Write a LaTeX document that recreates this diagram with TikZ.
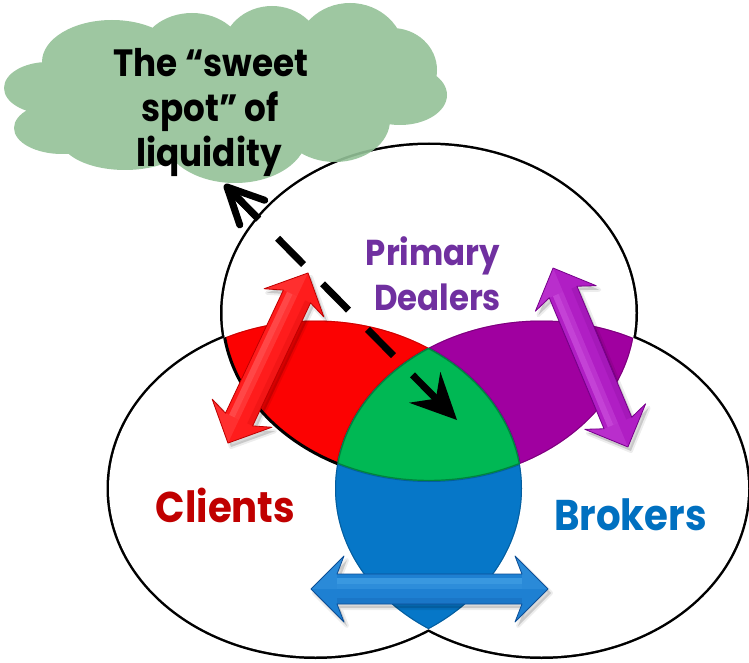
\documentclass[tikz,border=0pt]{standalone}
\usepackage{fontspec}
\usepackage{graphicx}
\setmainfont{Poppins}
\usetikzlibrary{calc,arrows.meta}

% palette
\definecolor{cloudgreen}{RGB}{147,193,151}
\definecolor{zoneRed}{RGB}{252,2,2}
\definecolor{zonePurple}{RGB}{160,0,160}
\definecolor{zoneGreen}{RGB}{0,184,84}
\definecolor{zoneBlue}{RGB}{6,119,200}
\definecolor{arRed}{RGB}{255,28,28}
\definecolor{arRedL}{RGB}{255,125,125}
\definecolor{arRedD}{RGB}{190,0,0}
\definecolor{arPurple}{RGB}{176,30,196}
\definecolor{arPurpleL}{RGB}{222,112,236}
\definecolor{arPurpleD}{RGB}{118,0,138}
\definecolor{arBlue}{RGB}{30,128,210}
\definecolor{arBlueL}{RGB}{92,182,242}
\definecolor{arBlueD}{RGB}{12,78,150}
\definecolor{txtPurple}{RGB}{112,48,160}
\definecolor{txtRed}{RGB}{192,0,0}
\definecolor{txtBlue}{RGB}{0,112,192}

% the three sets
\newcommand\topring{(429,313) ellipse [x radius=206.5, y radius=168]}
\newcommand\leftring{(315.5,488.5) ellipse [x radius=206.5, y radius=168]}
\newcommand\rightring{(541.5,488.5) ellipse [x radius=206.5, y radius=168]}
% labels are set a little condensed
\newcommand\narrow[1]{\scalebox{0.9}[1]{#1}}

\tikzset{
  ring/.style={draw=black, line width=5},
  edgeline/.style={draw=black, line width=3},
  lbl/.style={inner sep=0pt, anchor=base, font=\bfseries},
  dashlink/.style={draw=black, line width=7, line cap=butt,
    dash pattern=on 37pt off 27pt, dash phase=56pt},
  barbline/.style={draw=black, line width=7, line cap=round, line join=round},
  % fat double-headed arrow: length, angle, body, light, dark
  pics/fatarrow/.style n args={5}{code={
    \pgfmathsetmacro\arrHalf{#1/2}
    \pgfmathsetmacro\arrBarb{#1/2-33}
    \pgfmathsetmacro\arrNeck{#1/2-26}
    \def\arrOutline{(-\arrHalf,0) -- (-\arrBarb,-33) -- (-\arrNeck,-15)
      -- (\arrNeck,-15) -- (\arrBarb,-33) -- (\arrHalf,0) -- (\arrBarb,33)
      -- (\arrNeck,15) -- (-\arrNeck,15) -- (-\arrBarb,33) -- cycle}
    \begin{scope}[shift={(3,4)}, rotate=#2]
      \fill[black, opacity=0.15] \arrOutline;
      \draw[black, opacity=0.07, line width=4, line join=round] \arrOutline;
    \end{scope}
    \begin{scope}[rotate=#2]
      \fill[#3] \arrOutline;
      \fill[#4, opacity=0.45] (-\arrNeck,-11) rectangle (\arrNeck,-5);
      \fill[#4, opacity=0.25] (-\arrNeck,-5) rectangle (\arrNeck,0);
      \fill[#5, opacity=0.18] (-\arrNeck,9) rectangle (\arrNeck,15);
      \fill[#4, opacity=0.2] (\arrHalf,0) -- (\arrBarb,-33) -- (\arrNeck,-15) -- (\arrNeck,0) -- cycle;
      \fill[#4, opacity=0.2] (-\arrHalf,0) -- (-\arrBarb,-33) -- (-\arrNeck,-15) -- (-\arrNeck,0) -- cycle;
      \draw[#5, line width=0.8, line join=round] \arrOutline;
    \end{scope}
  }}
}

\begin{document}
\begin{tikzpicture}[x=1pt, y=-1pt]
\useasboundingbox (0,0) rectangle (749,663);

% outlines of the three sets; the white fill keeps only the outer rim
\draw[ring] \leftring;
\draw[ring] \rightring;
\draw[ring] \topring;
\fill[white] \leftring \rightring \topring;

% pairwise overlaps
\begin{scope}
  \clip \topring; \clip \leftring;
  \fill[zoneRed] (0,0) rectangle (749,663);
  \draw[zoneRed!70!black, line width=2, opacity=0.6] \topring \leftring \rightring;
\end{scope}
\begin{scope}
  \clip \topring; \clip \rightring;
  \fill[zonePurple] (0,0) rectangle (749,663);
  \draw[zonePurple!65!black, line width=2, opacity=0.6] \topring \leftring \rightring;
\end{scope}
\begin{scope}
  \clip \leftring; \clip \rightring;
  \fill[zoneBlue] (0,0) rectangle (749,663);
  \draw[zoneBlue!65!black, line width=2, opacity=0.6] \topring \leftring \rightring;
\end{scope}
% triple overlap
\begin{scope}
  \clip \topring; \clip \leftring; \clip \rightring;
  \fill[zoneGreen] (0,0) rectangle (749,663);
  \draw[zoneGreen!60!black, line width=2.4, opacity=0.7] \topring \leftring \rightring;
\end{scope}

% rim of the top set where it bounds the red overlap
\begin{scope}[even odd rule]
  \clip \leftring;
  \clip (-5,-5) rectangle (760,670) \rightring;
  \draw[edgeline] \topring;
\end{scope}

% thought cloud
\fill[cloudgreen, fill opacity=0.9]
  (48,88) ellipse [x radius=44, y radius=26]
  (62,128) ellipse [x radius=48, y radius=26]
  (112,62) ellipse [x radius=70, y radius=42]
  (192,55) ellipse [x radius=52, y radius=42]
  (272,52) ellipse [x radius=50, y radius=46]
  (350,55) ellipse [x radius=55, y radius=52]
  (392,70) ellipse [x radius=45, y radius=42]
  (400,95) ellipse [x radius=47, y radius=30]
  (335,120) ellipse [x radius=55, y radius=42]
  (235,135) ellipse [x radius=72, y radius=48]
  (125,138) ellipse [x radius=65, y radius=32]
  (225,95) ellipse [x radius=190, y radius=55];

\node[lbl, font=\fontsize{38}{45}\selectfont\bfseries] (sweetA) at (211,77) {\narrow{The “sweet}};
\node[lbl, font=\fontsize{38}{45}\selectfont\bfseries] (sweetB) at (210,122) {\narrow{spot” of}};
\node[lbl, font=\fontsize{38}{45}\selectfont\bfseries] (sweetC) at (209,167) {\narrow{liquidity}};

% two-way flows between the sets
\pic at (268,358) {fatarrow={188}{64.8}{arRed}{arRedL}{arRedD}};
\pic at (590.5,357.5) {fatarrow={194}{112.7}{arPurple}{arPurpleL}{arPurpleD}};
\pic at (429.5,589) {fatarrow={237}{0}{arBlue}{arBlueL}{arBlueD}};

% set labels
\node[lbl, text=txtPurple, font=\fontsize{36}{45}\selectfont\bfseries] (primA) at (433,265) {\narrow{Primary}};
\node[lbl, text=txtPurple, font=\fontsize{36}{45}\selectfont\bfseries] (primB) at (437.5,310) {\narrow{Dealers}};
\node[lbl, text=txtRed, font=\fontsize{43}{50}\selectfont\bfseries] (clients) at (225.5,522) {\narrow{Clients}};
\node[lbl, text=txtBlue, font=\fontsize{43}{50}\selectfont\bfseries] (brokers) at (630.5,530) {\narrow{Brokers}};

% dashed pointer between the cloud and the core
\coordinate (spotTip) at (227,187);
\coordinate (coreTip) at (457,420);
\draw[dashlink, -{Stealth[length=46pt, width=44pt, inset=16pt, line width=0pt]}]
  (spotTip) -- (coreTip);
\draw[barbline] ($(spotTip)!40pt!26:(coreTip)$) -- (spotTip) -- ($(spotTip)!40pt!-26:(coreTip)$);
\draw[barbline, line cap=butt] (spotTip) -- ($(spotTip)!45pt!(coreTip)$);
\end{tikzpicture}
\end{document}
